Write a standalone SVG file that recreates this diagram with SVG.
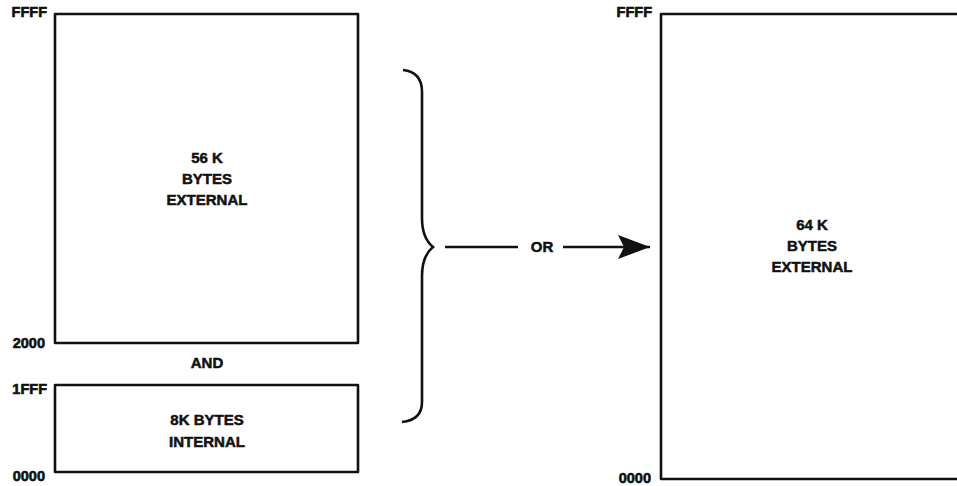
<svg xmlns="http://www.w3.org/2000/svg" width="957" height="486" viewBox="0 0 957 486">
<style>
.box{fill:none;stroke:#111;stroke-width:2.6;stroke-linejoin:round}
.t{font-family:"Liberation Sans",Arial,sans-serif;font-weight:bold;font-size:15px;fill:#111;stroke:#111;stroke-width:0.5;text-anchor:middle}
.a{font-family:"Liberation Sans",Arial,sans-serif;font-weight:bold;font-size:14.5px;fill:#111;stroke:#111;stroke-width:0.6;text-anchor:end}
.c{fill:none;stroke:#111;stroke-width:2.6}
</style>
<defs>
<marker id="ah" viewBox="0 0 32 24" refX="32" refY="12" markerWidth="32" markerHeight="24" markerUnits="userSpaceOnUse" orient="auto">
<path d="M0,0 L32,12 L0,24 L6,12 Z" fill="#111"/>
</marker>
</defs>
<rect width="957" height="486" fill="#fff"/>
<g id="ext56">
<rect class="box" x="55" y="14" width="303" height="329"/>
<text class="t" x="207" y="163">56 K</text>
<text class="t" x="207" y="184">BYTES</text>
<text class="t" x="207" y="205">EXTERNAL</text>
</g>
<g id="int8">
<rect class="box" x="55" y="385" width="303" height="87"/>
<text class="t" x="207" y="425">8K BYTES</text>
<text class="t" x="207" y="447">INTERNAL</text>
</g>
<g id="ext64">
<path class="box" d="M960,14 L661,14 L661,479 L960,479"/>
<text class="t" x="812" y="230">64 K</text>
<text class="t" x="812" y="251">BYTES</text>
<text class="t" x="812" y="272">EXTERNAL</text>
</g>
<g id="labels">
<text class="a" x="47" y="17">FFFF</text>
<text class="a" x="45" y="348">2000</text>
<text class="t" x="207" y="368">AND</text>
<text class="a" x="47" y="394">1FFF</text>
<text class="a" x="45" y="481">0000</text>
<text class="a" x="652" y="17">FFFF</text>
<text class="a" x="651" y="483">0000</text>
</g>
<g id="connectors">
<path class="c" d="M403,70 Q422,72 422,92 L422,218 Q422,238 433,247 Q422,256 422,276 L422,402 Q422,420 402,422"/>
<line class="c" x1="445" y1="247" x2="518" y2="247"/>
<text class="t" x="542" y="252">OR</text>
<line class="c" x1="563" y1="247" x2="650" y2="247" marker-end="url(#ah)"/>
</g>
</svg>
